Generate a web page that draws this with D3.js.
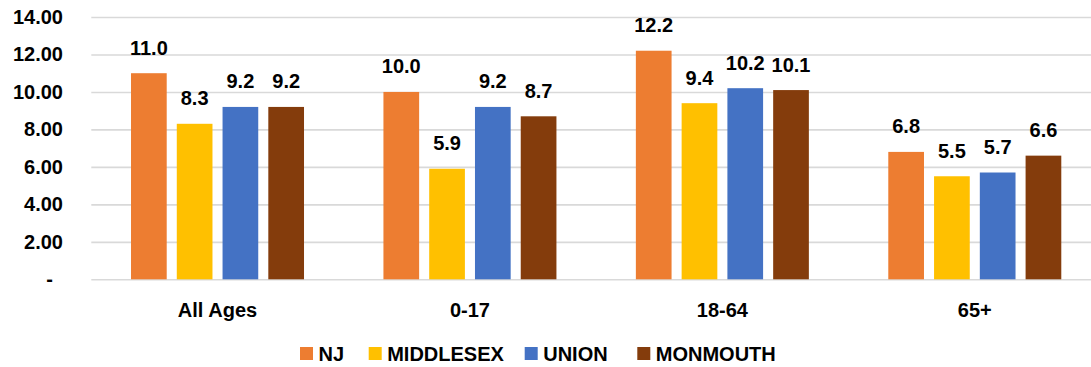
<!DOCTYPE html>
<html>
<head>
<meta charset="utf-8">
<script src="https://cdn.jsdelivr.net/npm/d3@7"></script>
<style>
html,body{margin:0;padding:0;background:#fff;}
svg{display:block;}
text{font-family:"Liberation Sans",Arial,sans-serif;font-weight:bold;fill:#000;}
</style>
</head>
<body>
<svg id="chart" width="1091" height="367"></svg>
<script>
const categories = ["All Ages", "0-17", "18-64", "65+"];
const seriesNames = ["NJ", "MIDDLESEX", "UNION", "MONMOUTH"];
const nj = [11.0, 10.0, 12.2, 6.8];
const middlesex = [8.3, 5.9, 9.4, 5.5];
const union = [9.2, 9.2, 10.2, 5.7];
const monmouth = [9.2, 8.7, 10.1, 6.6];
const yTicks = [0, 2, 4, 6, 8, 10, 12, 14];
const colors = ["#ED7D31", "#FFC000", "#4472C4", "#843C0C"];

const FONT = "'Liberation Sans', Arial, sans-serif";
const FS = "20px";

const seriesValues = [nj, middlesex, union, monmouth];
const data = categories.map((c, i) => ({
  cat: c,
  vals: seriesNames.map((s, j) => ({ key: s, value: seriesValues[j][i], color: colors[j] }))
}));

const svg = d3.select("#chart");
const plotLeft = 91.3, plotRight = 1101, plotTop = 17, plotBottom = 279.3;

const y = d3.scaleLinear().domain([0, 14]).range([plotBottom, plotTop]);
const x0 = d3.scaleBand().domain(categories).range([plotLeft, plotRight]).padding(0);
const groupW = 173;
const x1 = d3.scaleBand().domain(seriesNames)
  .range([(x0.bandwidth() - groupW) / 2, (x0.bandwidth() + groupW) / 2])
  .paddingInner(0.22).paddingOuter(0);

// gridlines
const grid = svg.append("g").attr("transform", `translate(${plotLeft},0)`)
  .call(d3.axisLeft(y).tickValues(yTicks).tickSize(-(plotRight - plotLeft)).tickFormat(""));
grid.select(".domain").remove();
grid.selectAll(".tick line").attr("stroke", "#D9D9D9").attr("stroke-width", 1.6);

// y tick labels
const yAxis = svg.append("g").attr("transform", `translate(63,0)`)
  .call(d3.axisLeft(y).tickValues(yTicks).tickSize(0).tickPadding(0)
    .tickFormat(d => d === 0 ? "-" : d3.format(".2f")(d)));
yAxis.select(".domain").remove();
yAxis.selectAll("text").style("font-size", FS).attr("fill", "#000")
  .style("font-family", FONT).style("font-weight", "bold")
  .attr("dx", d => d === 0 ? -10 : 0);

// bars
const groups = svg.append("g").selectAll("g").data(data).join("g")
  .attr("transform", d => `translate(${x0(d.cat)},0)`);
groups.selectAll("rect").data(d => d.vals).join("rect")
  .attr("x", d => x1(d.key))
  .attr("width", x1.bandwidth())
  .attr("y", d => y(d.value))
  .attr("height", d => y(0) - y(d.value))
  .attr("fill", d => d.color);
groups.selectAll("text").data(d => d.vals).join("text")
  .attr("x", d => x1(d.key) + x1.bandwidth() / 2)
  .attr("y", d => y(d.value) - 18.5)
  .attr("text-anchor", "middle")
  .style("font-size", FS)
  .text(d => d3.format(".1f")(d.value));

// x axis labels
const xAxis = svg.append("g").attr("transform", `translate(0,${plotBottom})`)
  .call(d3.axisBottom(x0).tickSize(0).tickPadding(0));
xAxis.select(".domain").remove();
xAxis.selectAll("text").attr("dy", null).attr("y", 38).attr("fill", "#000")
  .style("font-size", FS).style("font-family", FONT).style("font-weight", "bold");

// legend
const legendX = [300, 368.7, 524.7, 637.3];
const legend = svg.append("g").selectAll("g").data(seriesNames).join("g")
  .attr("transform", (d, i) => `translate(${legendX[i]},347)`);
legend.append("rect").attr("width", 13).attr("height", 13).attr("fill", (d, i) => colors[i]);
legend.append("text").attr("x", 18.5).attr("y", 13.5).style("font-size", FS).text(d => d);
</script>
</body>
</html>
